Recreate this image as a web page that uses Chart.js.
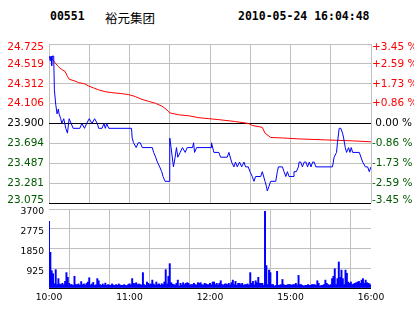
<!DOCTYPE html>
<html><head><meta charset="utf-8">
<script src="https://cdn.jsdelivr.net/npm/chart.js@4"></script>
<style>
html,body{margin:0;padding:0;background:#fff;}
body{width:414px;height:314px;overflow:hidden;position:relative;}
.t{position:absolute;top:9px;line-height:14px;white-space:pre;color:#000;}
#code,#stamp{font:bold 11.5px "DejaVu Sans Mono";}
#name{font:12.5px "Noto Sans CJK SC";top:8px;}
.cv{position:absolute;left:0;top:0;width:414px;height:314px;}
</style></head>
<body>
<div class="t" id="code" style="left:50px"></div>
<div class="t" id="name" style="left:105px"></div>
<div class="t" id="stamp" style="left:238px"></div>
<div class="cv"><canvas id="price" width="414" height="314"></canvas></div>
<div class="cv"><canvas id="vol" width="414" height="314"></canvas></div>
<script>
const stockCode = '00551';
const stockName = '裕元集团';
const stamp = '2010-05-24 16:04:48';

const prevClose = 23.9;
const priceMin = 23.075, priceMax = 24.725;
const leftTickLabels = ['24.725','24.519','24.312','24.106','23.900','23.694','23.487','23.281','23.075'];
const rightTickLabels = ['+3.45 %','+2.59 %','+1.73 %','+0.86 %',' 0.00 %','-0.86 %','-1.73 %','-2.59 %','-3.45 %'];
const timeLabels = ['10:00','11:00','12:00','15:00','16:00'];
const volTickLabels = ['3700','2775','1850','925'];

// minutes since 10:00 (trading minutes) and prices
const priceMinutes = [0,1,1.5,2,2.5,3.5,4,5,6,7,7.5,8.75,9.5,11,12.5,13.75,15,16.5,18,23,24.5,26.5,28,30,32,34,36,37,39.5,41,42,43,44.5,61.5,62,63,65,66.5,68,69.5,77,78,79.5,80.75,82.5,84,85,86.5,89.5,90,91,92.75,94,95,96,97.75,99.5,101.5,103,107,107.75,108.5,110,120.75,121.1,122.9,126.6,127.9,132.8,134.1,136.1,137.8,139,140.3,142,143.6,145.3,146.5,148.5,149.8,151.5,152.8,154,157.8,159,161,162,162.7,164,165.2,169,170.2,171,174,175.2,176.5,177.7,178.9,181.9,182.6,184.4,185.9,186.4,187.6,188.9,190.2,191.5,192.7,194,195.3,196.5,197.6,198.9,211.3,212.5,214.3,215,216.3,217.5,218.8,219.6,220.8,221.8,223.3,224.3,225.3,226.3,231.3,232.5,233.8,235.8,237.5,238.7,240];
const priceValues = [24.60,24.55,24.60,24.50,24.60,24.60,24.25,24.10,24.00,24.05,24.00,23.95,23.90,23.95,23.85,23.80,23.95,23.90,23.85,23.85,23.90,23.85,23.90,23.95,23.90,23.95,23.90,23.85,23.85,23.90,23.85,23.90,23.85,23.85,23.75,23.70,23.65,23.70,23.70,23.65,23.65,23.60,23.55,23.50,23.45,23.40,23.35,23.30,23.30,23.75,23.65,23.45,23.55,23.65,23.55,23.60,23.65,23.60,23.65,23.65,23.70,23.60,23.65,23.65,23.70,23.60,23.60,23.55,23.55,23.60,23.50,23.45,23.50,23.45,23.50,23.45,23.50,23.45,23.45,23.40,23.35,23.30,23.35,23.35,23.40,23.30,23.25,23.20,23.25,23.30,23.30,23.40,23.45,23.45,23.40,23.35,23.40,23.35,23.35,23.40,23.40,23.45,23.50,23.50,23.45,23.50,23.50,23.45,23.50,23.45,23.50,23.50,23.45,23.45,23.55,23.60,23.70,23.85,23.85,23.80,23.75,23.65,23.60,23.65,23.60,23.65,23.60,23.60,23.55,23.50,23.45,23.45,23.40,23.45];

const avgMinutes = [0,3,4.5,7,9.5,12,13.7,15,19.4,21.9,26.9,29.4,33.1,36.9,41.9,46.9,54.3,59.3,64.3,69.3,74.3,79.3,84.2,87.2,90,96.7,104.2,111.7,119.2,126.6,139,148.9,151.5,159,161,165.2,174,186.4,206,226,240];
const avgValues = [24.59,24.56,24.53,24.49,24.46,24.44,24.39,24.36,24.34,24.325,24.31,24.29,24.27,24.25,24.23,24.22,24.21,24.20,24.18,24.15,24.13,24.11,24.08,24.05,24.01,23.99,23.98,23.96,23.95,23.94,23.92,23.90,23.88,23.86,23.80,23.755,23.75,23.74,23.73,23.72,23.71];

// per-minute volume, minute 0 .. 240
const volumes = [3120,1670,810,670,200,860,160,440,190,160,220,150,310,720,500,220,160,160,120,550,
160,160,190,130,300,160,190,140,220,280,480,140,190,260,120,150,440,340,160,125,
190,140,230,125,160,140,125,190,140,120,160,125,190,140,130,125,160,125,110,160,
200,150,440,220,200,250,160,190,160,140,720,160,120,280,220,160,190,370,190,140,
280,160,190,130,200,160,280,860,190,550,1140,250,190,160,140,220,370,90,220,140,
250,160,220,250,220,140,160,160,220,160,140,250,220,250,160,140,220,190,160,160,
220,150,280,280,160,220,140,220,340,160,140,190,190,160,220,140,250,370,160,310,
130,220,220,160,220,130,160,160,190,140,720,220,310,150,340,250,500,220,220,220,
130,3590,1050,160,840,720,160,160,90,120,780,125,140,160,400,160,125,130,160,160,
160,130,160,160,220,140,590,160,160,120,90,125,125,160,130,125,160,160,160,130,
340,220,90,125,130,160,370,220,160,130,160,440,550,900,160,440,1220,500,840,440,
160,840,690,280,220,280,160,190,220,250,280,310,220,370,440,220,370,250,220,190,120];

document.getElementById('code').textContent = stockCode;
document.getElementById('name').textContent = stockName;
document.getElementById('stamp').textContent = stamp;

const GRID = '#c0c0c0';
const RED = '#ff0000', GREEN = '#005a00';
const totalMinutes = 240, gridStep = 30;
const gridTicks = [];
for (let m = 0; m <= totalMinutes; m += gridStep) gridTicks.push({value: m});
const priceTickValues = leftTickLabels.map(parseFloat).reverse();
const lastIdx = priceTickValues.length - 1;

function tickColor(ctx) {
  const v = ctx.tick ? ctx.tick.value : 0;
  if (v > prevClose + 1e-6) return RED;
  if (v < prevClose - 1e-6) return GREEN;
  return '#000';
}
// keep the edge labels inside the panel (top pushed down, bottom pushed up)
function edgeLabel(text, i) {
  if (i === lastIdx) return ['', text];
  if (i === 0) return [text, ''];
  return text;
}
function priceFont(ctx) {
  const edge = ctx.index === 0 || ctx.index === lastIdx;
  return { family: 'DejaVu Sans', size: 10.5, lineHeight: edge ? '6px' : 1.2 };
}

new Chart(document.getElementById('price'), {
  type: 'line',
  data: {
    datasets: [
      { data: priceMinutes.map((m, i) => ({x: m, y: priceValues[i]})), borderColor: '#0000ff', borderWidth: 1, pointRadius: 0, tension: 0, yAxisID: 'y' },
      { data: avgMinutes.map((m, i) => ({x: m, y: avgValues[i]})), borderColor: RED, borderWidth: 1, pointRadius: 0, tension: 0, yAxisID: 'y' }
    ]
  },
  options: {
    responsive: false, animation: false, devicePixelRatio: 1,
    layout: { padding: { top: 44, bottom: 111, left: 0, right: 0 } },
    plugins: { legend: { display: false }, tooltip: { enabled: false } },
    scales: {
      x: {
        type: 'linear', min: 0, max: totalMinutes,
        afterBuildTicks: s => { s.ticks = gridTicks.map(t => ({value: t.value})); },
        ticks: { display: false },
        grid: { color: GRID, drawTicks: false },
        border: { display: false },
        afterFit: s => { s.height = 0; }
      },
      y: {
        position: 'left', min: priceMin, max: priceMax,
        afterBuildTicks: s => { s.ticks = priceTickValues.map(v => ({value: v})); },
        ticks: {
          autoSkip: false, padding: 5,
          callback: (v, i) => edgeLabel(leftTickLabels[lastIdx - i], i),
          color: tickColor,
          font: priceFont
        },
        grid: {
          drawTicks: false,
          color: ctx => (ctx.index === 0 || (ctx.tick && Math.abs(ctx.tick.value - prevClose) < 1e-6)) ? '#000' : GRID
        },
        border: { display: false },
        afterFit: s => { s.width = 49; }
      },
      y2: {
        position: 'right', min: priceMin, max: priceMax,
        afterBuildTicks: s => { s.ticks = priceTickValues.map(v => ({value: v})); },
        ticks: {
          autoSkip: false, padding: 1,
          callback: (v, i) => edgeLabel(rightTickLabels[lastIdx - i], i),
          color: tickColor,
          font: priceFont
        },
        grid: { display: false, drawTicks: false },
        border: { display: false },
        afterFit: s => { s.width = 43; }
      }
    }
  }
});

new Chart(document.getElementById('vol'), {
  type: 'bar',
  data: {
    datasets: [
      { data: volumes.map((v, i) => ({x: i, y: v})), backgroundColor: '#0000ff', borderWidth: 0, barThickness: 1.3 }
    ]
  },
  options: {
    responsive: false, animation: false, devicePixelRatio: 1,
    layout: { padding: { top: 209, bottom: 0, left: 0, right: 43 } },
    plugins: { legend: { display: false }, tooltip: { enabled: false } },
    scales: {
      x: {
        type: 'linear', min: 0, max: totalMinutes, offset: false,
        afterBuildTicks: s => { s.ticks = gridTicks.map(t => ({value: t.value})); },
        ticks: {
          autoSkip: false, maxRotation: 0, padding: 4, color: '#000',
          font: { family: 'DejaVu Sans', size: 9.2 },
          callback: v => (v % 60 === 0 ? timeLabels[v / 60] : '')
        },
        grid: { color: GRID, drawTicks: false },
        border: { display: false },
        afterFit: s => { s.height = 26; }
      },
      y: {
        position: 'left', min: 0, max: 3700,
        afterBuildTicks: s => { s.ticks = [0].concat(volTickLabels.map(parseFloat).reverse()).map(v => ({value: v})); },
        ticks: {
          autoSkip: false, padding: 5, color: '#000', labelOffset: 3,
          font: { family: 'DejaVu Sans', size: 9.2 },
          callback: v => (v === 0 ? '' : volTickLabels.find(l => parseFloat(l) === v))
        },
        grid: { drawTicks: false, color: ctx => (ctx.index === 0 ? '#000' : GRID) },
        border: { display: false },
        afterFit: s => { s.width = 49; }
      }
    }
  }
});
</script>
</body></html>
